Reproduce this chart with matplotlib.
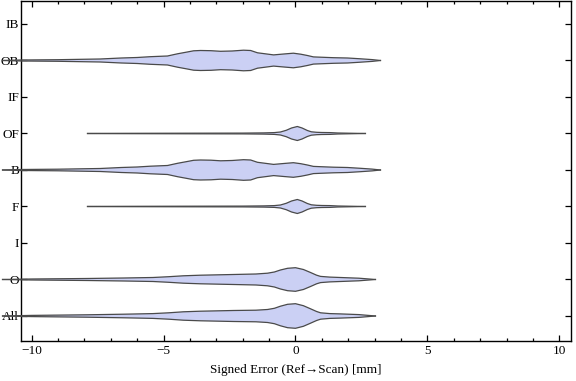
import numpy as np
import matplotlib
matplotlib.use("Agg")
import matplotlib.pyplot as plt
from matplotlib.ticker import MultipleLocator

plt.rcParams['font.family'] = ['Liberation Serif', 'DejaVu Serif']

# categories from bottom to top
categories = ['All', 'O', 'I', 'F', 'B', 'OF', 'IF', 'OB', 'IB']

# violin outlines: error value [mm] and half-width (pixels at 100 dpi)
ob_x = [-11.1, -10.4, -9.0, -7.4, -6.6, -6.0, -5.5, -4.85, -4.47, -4.1, -3.86, -3.6, -3.2,
        -2.84, -2.4, -1.97, -1.7, -1.44, -1.06, -0.83, -0.4, -0.08, 0.2, 0.45, 0.68, 0.95,
        1.44, 1.97, 2.46, 2.9, 3.22]
ob_w = [0.0, 0.5, 0.8, 1.5, 2.5, 3.0, 3.8, 4.5, 6.7, 8.5, 9.7, 10.0, 9.8,
        9.2, 9.5, 10.3, 10.0, 7.7, 6.4, 5.6, 6.6, 7.3, 6.3, 5.0, 3.6, 3.3,
        2.8, 2.5, 1.7, 0.9, 0.0]

of_x = [-7.88, -6.0, -4.0, -2.0, -1.2, -0.8, -0.57, -0.35, -0.15, 0.07, 0.25, 0.45, 0.6,
        0.8, 1.0, 1.3, 1.6, 2.0, 2.65]
of_w = [0.1, 0.2, 0.3, 0.4, 0.6, 0.9, 1.5, 3.2, 5.5, 7.0, 5.5, 3.0, 1.7,
        1.2, 1.0, 0.9, 0.5, 0.3, 0.0]

o_x = [-11.1, -10.0, -7.9, -6.5, -5.4, -4.8, -4.25, -3.6, -2.35, -1.5, -1.06, -0.8, -0.57,
       -0.3, 0.0, 0.3, 0.57, 0.8, 0.95, 1.3, 1.7, 2.4, 3.03]
o_w = [0.0, 0.5, 1.0, 1.5, 2.0, 2.8, 3.7, 4.3, 5.0, 5.5, 6.3, 7.5, 9.5,
       11.2, 11.8, 10.0, 7.0, 4.3, 3.1, 2.4, 2.0, 1.3, 0.0]

all_x = o_x
all_w = [0.0, 0.6, 1.2, 1.8, 2.4, 3.2, 4.2, 4.8, 5.5, 5.8, 6.5, 7.7, 9.8,
         11.7, 12.3, 10.3, 7.2, 4.5, 3.2, 2.4, 2.1, 1.4, 0.0]

violins = {'All': (all_x, all_w), 'O': (o_x, o_w), 'F': (of_x, of_w), 'B': (ob_x, ob_w),
           'OF': (of_x, of_w), 'OB': (ob_x, ob_w)}

fig = plt.figure(figsize=(5.76, 3.81), dpi=100)
ax = fig.add_axes([20.5 / 576, 40 / 381, 550.5 / 576, 340 / 381])

px_per_cat = 36.5
for i, cat in enumerate(categories):
    y0 = i + 1
    if cat not in violins:
        continue
    xs, ws = violins[cat]
    xs = np.array(xs)
    hw = np.array(ws) / px_per_cat
    ax.fill_between(xs, y0 - hw, y0 + hw, facecolor='#cbd0f4', edgecolor='none',
                    clip_on=False, zorder=2)
    ax.plot(xs, y0 + hw, color='#4a4a4a', lw=0.9, clip_on=False, zorder=3)
    ax.plot(xs, y0 - hw, color='#4a4a4a', lw=0.9, clip_on=False, zorder=3)

ax.set_xlim(-10.42, 10.44)
ax.set_ylim(0.315, 9.63)
ax.set_yticks(range(1, len(categories) + 1))
ax.set_yticklabels(categories)
ax.xaxis.set_major_locator(MultipleLocator(5))
ax.xaxis.set_minor_locator(MultipleLocator(1))
ax.set_xticks([-10, -5, 0, 5, 10])
ax.set_xticklabels(['\u221210', '\u22125', '0', '5', '10'])

ax.tick_params(axis='both', which='both', direction='in', top=True, right=True,
               labelsize=9.5, width=0.9, color='black', pad=3)
ax.tick_params(axis='both', which='major', length=4)
ax.tick_params(axis='x', which='minor', length=2)
ax.tick_params(axis='y', pad=1)
for s in ax.spines.values():
    s.set_linewidth(1.0)
    s.set_color('black')

ax.set_xlabel('Signed Error (Ref\u2192Scan) [mm]', fontsize=9.5, labelpad=5)

fig.savefig('out.png', dpi=100)
